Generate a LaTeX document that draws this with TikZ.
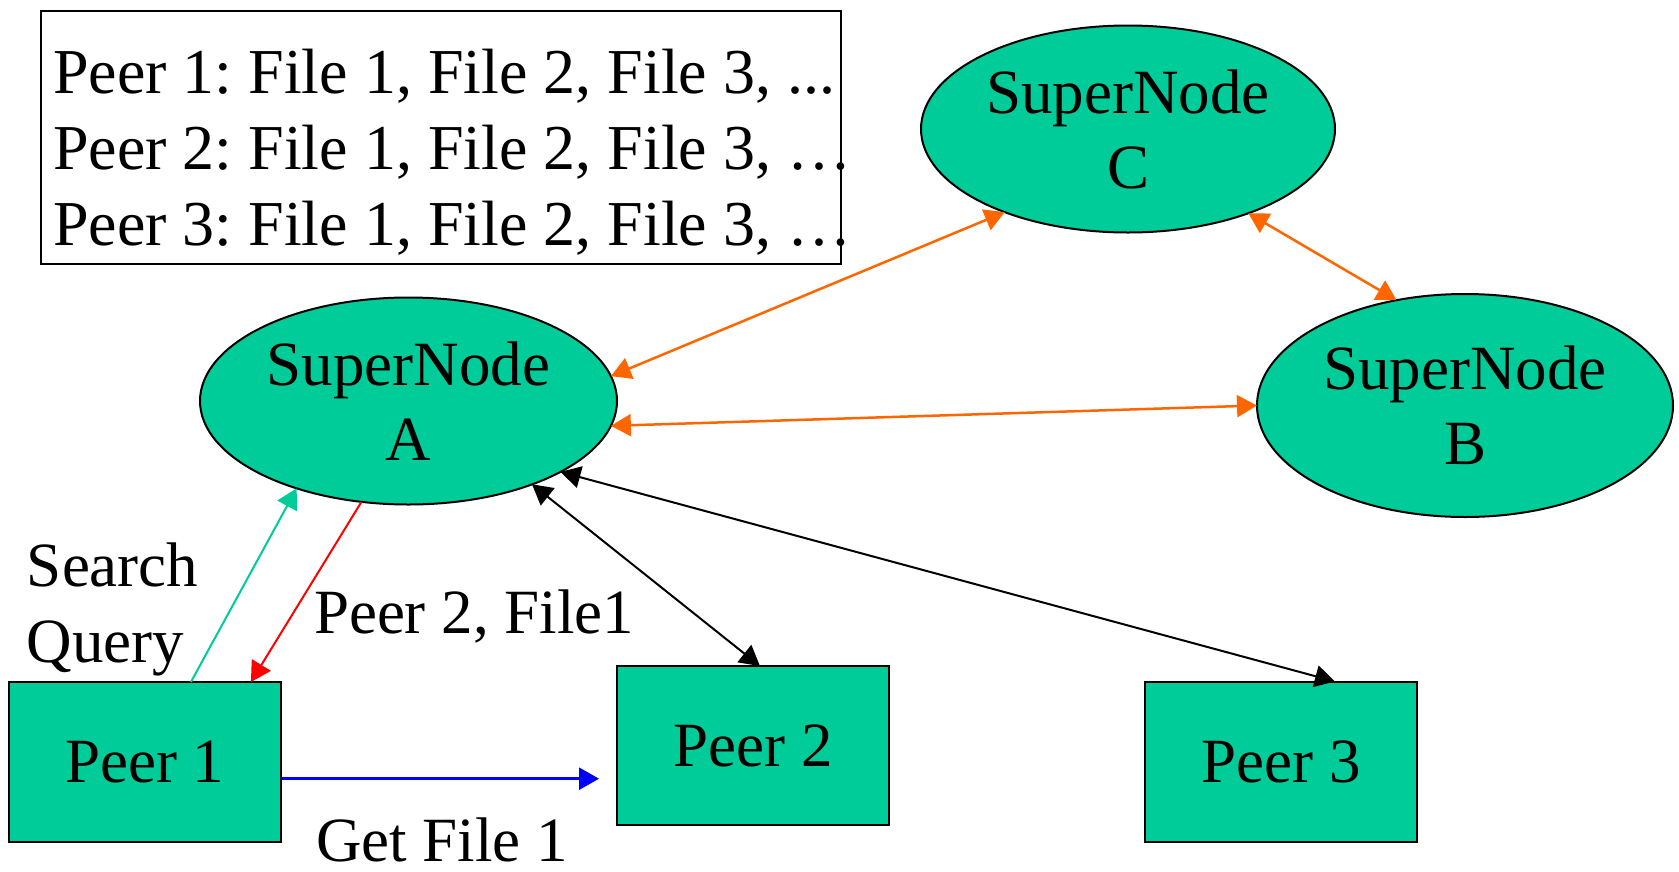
\documentclass[tikz,border=0pt]{standalone}
\usepackage{fontspec}
\setmainfont{Liberation Serif}
\usetikzlibrary{arrows.meta,calc,shapes.geometric}
\definecolor{snfill}{HTML}{00CC99}
\definecolor{snorange}{HTML}{FF6600}
\frenchspacing

\begin{document}
\begin{tikzpicture}[x=1pt,y=-1pt,
  every node/.style={font=\fontsize{63}{75}\selectfont, inner sep=0pt, outer sep=0pt},
  super/.style={ellipse, draw=black, line width=2pt, fill=snfill,
    minimum width=417pt, minimum height=207pt, align=center},
  peer/.style={rectangle, draw=black, line width=2pt, fill=snfill,
    minimum width=272pt, minimum height=160pt},
  lbl/.style={anchor=base west},
  link/.style={line width=2pt, -{Triangle[length=20pt,width=22pt]}},
  dlink/.style={line width=2pt, {Triangle[length=20pt,width=22pt]}-{Triangle[length=20pt,width=22pt]}},
]
\useasboundingbox (0,0) rectangle (1679,871);

% index of files held by each peer
\node[draw=black, line width=2pt, minimum width=800pt, minimum height=253pt,
      anchor=north west] (index) at (41,11) {};
\node[lbl, font=\fontsize{64}{76}\selectfont] (row1) at (53,93)  {Peer 1: File 1, File 2, File 3, ...};
\node[lbl, font=\fontsize{64}{76}\selectfont] (row2) at (53,169) {Peer 2: File 1, File 2, File 3, …};
\node[lbl, font=\fontsize{64}{76}\selectfont] (row3) at (53,245) {Peer 3: File 1, File 2, File 3, …};

% super nodes
\node[super, minimum width=414pt] (C) at (1128,129) {SuperNode\\C};
\node[super] (A) at (408.5,401) {SuperNode\\A};
\node[super, minimum width=416pt, minimum height=223pt] (B) at (1465,405.5) {SuperNode\\B};

% ordinary peers
\node[peer] (P1) at (144.75,762) {Peer 1};
\node[peer, minimum height=159pt] (P2) at (753,745.5) {Peer 2};
\node[peer] (P3) at (1281,761.5) {Peer 3};

% links between super nodes
\draw[dlink, line width=2.5pt, snorange] (A.7.6) -- (C.214.5);
\draw[dlink, line width=2.5pt, snorange] (C.325.6) -- (B.123.7);
\draw[dlink, line width=2.5pt, snorange] (A.353.2) -- (B.180);

% query and answer between Peer 1 and its super node
\draw[link, snfill] (P1.60.2) -- (A.218.4);
\draw[link, red] (A.245) -- (P1.37.85);

% peers registered with super node A
\draw[dlink, black] (A.326.5) -- (P2.85.7);
\draw[dlink, black] (A.335.5) -- (P3.56.1);

% direct download
\draw[link, blue, line width=2.5pt, shorten >=18pt] (P1.353.3) -- (P1.353.3 -| P2.west);

% labels
\node[lbl] (search) at (27,586) {Search};
\node[lbl] (query) at (27,662) {Query};
\node[lbl] (answer) at (314,633) {Peer 2, File1};
\node[lbl] (get) at (316,861) {Get File 1};
\end{tikzpicture}
\end{document}
